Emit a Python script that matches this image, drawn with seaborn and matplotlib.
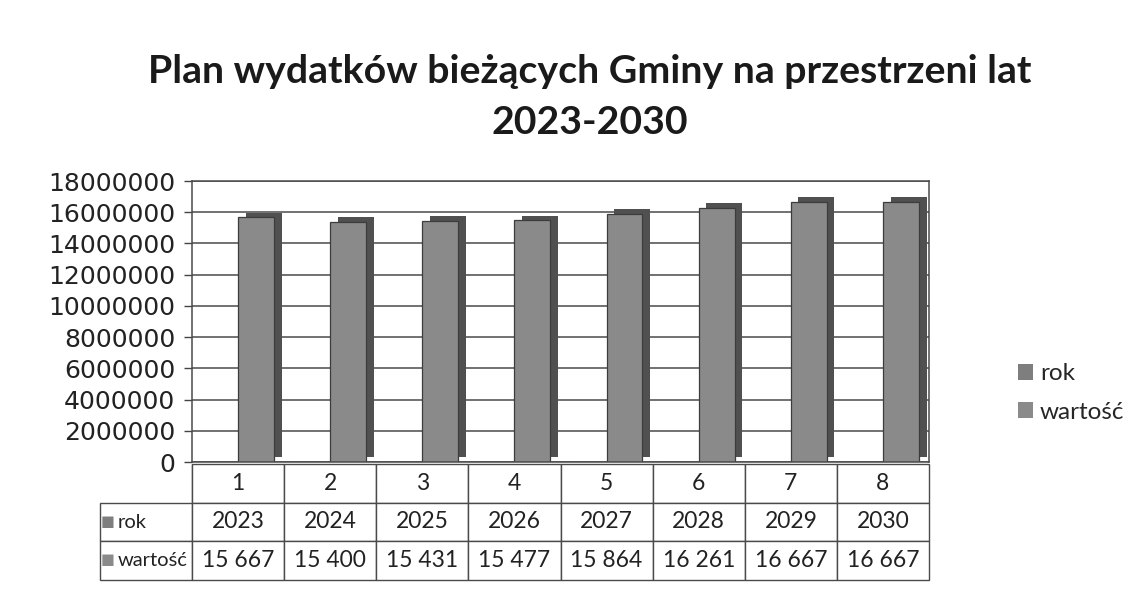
import numpy as np
import pandas as pd
import matplotlib
matplotlib.use('Agg')
import matplotlib.pyplot as plt
import matplotlib.patheffects as pe
import seaborn as sns
from matplotlib.patches import Patch

# ---- data ----
categories = ['1', '2', '3', '4', '5', '6', '7', '8']
rok = [2023, 2024, 2025, 2026, 2027, 2028, 2029, 2030]
wartosc_tys = [15667, 15400, 15431, 15477, 15864, 16261, 16667, 16667]
wartosc_labels = ['15 667', '15 400', '15 431', '15 477', '15 864', '16 261', '16 667', '16 667']
series_names = ['rok', 'wartość']
yticks = [0, 2000000, 4000000, 6000000, 8000000, 10000000, 12000000, 14000000, 16000000, 18000000]
title = 'Plan wydatków bieżących Gminy na przestrzeni lat\n2023-2030'

df = pd.DataFrame({
    'kat': categories * 2,
    'seria': [series_names[0]] * len(categories) + [series_names[1]] * len(categories),
    'value': rok + [v * 1000 for v in wartosc_tys],
})

sns.set_theme(style='white')
plt.rcParams['font.family'] = ['Lato', 'DejaVu Sans']

W, H = 1138, 597
fig = plt.figure(figsize=(W / 100, H / 100), dpi=100)
fig.patch.set_facecolor('white')
ax = fig.add_axes([192 / W, 1 - 462 / H, 737 / W, 281 / H])

colors = {'rok': '#7e7e7e', 'wartość': '#8a8a8a'}
sns.barplot(data=df, x='kat', y='value', hue='seria', order=categories,
            hue_order=series_names, palette=colors, width=0.78,
            edgecolor='#3c3c3c', linewidth=0.9, ax=ax, legend=False)

# pseudo-3D depth on bars
for p in ax.patches:
    p.set_path_effects([pe.SimplePatchShadow(offset=(5.5, 3.5), shadow_rgbFace='#505050', alpha=1.0),
                        pe.Normal()])

ax.set_ylim(0, 18000000)
ax.set_yticks(yticks)
ax.set_yticklabels([str(t) for t in yticks], fontfamily='DejaVu Sans', fontsize=18, color='#222222')
ax.set_xticks(range(len(categories)))
ax.set_xticklabels([])
ax.tick_params(axis='x', length=0)
ax.tick_params(axis='y', length=6, width=1, color='#444444', left=True, pad=6)
ax.set_xlabel('')
ax.set_ylabel('')
ax.yaxis.grid(True, color='#4a4a4a', linewidth=1.1)
ax.set_axisbelow(True)
for s in ax.spines.values():
    s.set_visible(True)
    s.set_color('#4a4a4a')
    s.set_linewidth(1.1)

# data table (first column = row labels)
n = len(categories)
cell_text = [[''] + categories,
             [series_names[0]] + [str(r) for r in rok],
             [series_names[1]] + wartosc_labels]
tbl = ax.table(cellText=cell_text, cellLoc='center',
               colWidths=[1.0 / (n + 1)] * (n + 1),
               bbox=[-92 / 737, -118 / 281, 829 / 737, 116 / 281])
tbl.auto_set_font_size(False)
tbl.set_fontsize(16.5)
for (r, c), cell in tbl.get_celld().items():
    cell.set_edgecolor('#4a4a4a')
    cell.set_linewidth(1.0)
    cell.get_text().set_color('#222222')
    if c == 0:
        cell._loc = 'left'
        cell.PAD = 0.19
        cell.get_text().set_ha('left')
        cell.get_text().set_fontsize(14.5)
        if r == 0:
            cell.visible_edges = 'R'

# legend keys in table row labels
for name, yy in zip(series_names, [522, 560]):
    fig.text(101 / W, 1 - yy / H, '■', color=colors[name], fontsize=10.5,
             ha='left', va='center', family=['DejaVu Sans'])

# legend
handles = [Patch(facecolor=colors[n], edgecolor='none') for n in series_names]
fig.legend(handles, series_names, loc='center left',
           bbox_to_anchor=(1018 / W, 1 - 393 / H), frameon=False, fontsize=17.5,
           borderpad=0, borderaxespad=0,
           handlelength=0.6, handleheight=0.6, labelspacing=0.7, handletextpad=0.3)

fig.text(590 / W, 1 - 97 / H, title, ha='center', va='center', fontsize=28.3,
         fontweight='bold', linespacing=1.55, color='#1a1a1a')

fig.savefig('out.png', dpi=100)
